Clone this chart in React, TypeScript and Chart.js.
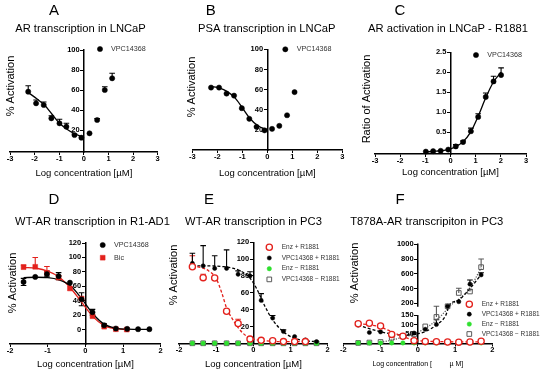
import React, { useEffect, useRef } from 'react';
import { Chart, registerables, LinearScale } from 'chart.js';

Chart.register(...registerables);

const FONT = '"Liberation Sans", Arial, Helvetica, sans-serif';
Chart.defaults.font.family = FONT;
Chart.defaults.color = '#000';

const RED = '#e3211c';
const GREEN = '#2fe02f';
const GRAY = '#5a5a5a';

// ---------------- data ----------------
const X_TICKS_3 = [-3, -2, -1, 0, 1, 2, 3];
const X_TICKS_2 = [-2, -1, 0, 1, 2];
const Y_TICKS_PCT = [20, 40, 60, 80, 100];
const Y_TICKS_RATIO = [0.5, 1.0, 1.5, 2.0, 2.5];
const Y_TICKS_D = [0, 20, 40, 60, 80, 100, 120];
const Y_TICKS_E = [20, 40, 60, 80, 100, 120];
const Y_TICKS_F = [50, 100, 150, 200, 400, 600, 800, 1000];

// A
const A_X = [-2.26, -1.94, -1.63, -1.32, -0.99, -0.71, -0.38, -0.1, 0.23, 0.54, 0.85, 1.15];
const A_Y = [58.3, 46.7, 45, 31.7, 26.7, 23.3, 15, 12.3, 16.7, 30, 60, 71.7];
const A_ERR = [6, 3.3, 3, 2.5, 4, 3.5, 1, 0, 0, 1.5, 3.3, 5];
const A_FIT_X = [-2.26, -1.9, -1.6, -1.3, -1.0, -0.7, -0.4, -0.1, -0.02];
const A_FIT_Y = [57.5, 51, 45, 36, 27, 21, 16.5, 13.5, 12.8];

// B
const B_X = [-2.25, -1.93, -1.63, -1.33, -1.02, -0.72, -0.43, -0.11, 0.19, 0.48, 0.79, 1.09];
const B_Y = [62, 62, 56, 54, 41.5, 31, 23, 19.5, 21, 24, 34.5, 57.5];
const B_FIT_X = [-2.25, -1.9, -1.6, -1.3, -1.0, -0.7, -0.4, -0.1, -0.02];
const B_FIT_Y = [63, 61.5, 58, 52, 42, 31.5, 24.5, 21, 20.7];

// C
const C_X = [-0.98, -0.69, -0.39, -0.09, 0.21, 0.5, 0.81, 1.1, 1.4, 1.71, 2.01];
const C_Y = [0.01, 0.02, 0.03, 0.06, 0.14, 0.25, 0.52, 0.88, 1.38, 1.77, 1.93];
const C_ERR = [0, 0, 0, 0, 0.05, 0.03, 0.08, 0.08, 0.1, 0.13, 0.18];
const C_FIT_X = [-1, -0.6, -0.2, 0.2, 0.5, 0.8, 1.1, 1.4, 1.7, 2.01];
const C_FIT_Y = [0.0, 0.02, 0.05, 0.13, 0.26, 0.5, 0.9, 1.36, 1.75, 2.0];

// D
const D_X = [-1.64, -1.33, -1.02, -0.71, -0.41, -0.1, 0.19, 0.5, 0.81, 1.11, 1.4, 1.7];
const D_VPC = [66, 73, 77, 74, 65, 42, 24, 6, 1.5, 1, 0.5, 0.5];
const D_VPC_ERR = [5, 0, 4, 5, 0, 9, 4, 2, 0, 0, 0, 0];
const D_BIC_X = [-1.64, -1.33, -1.02, -0.71, -0.41, -0.1, 0.19, 0.5, 0.81, 1.1];
const D_BIC = [86.5, 87, 78.5, 72, 57, 43, 18.5, 4, 0.5, 0];
const D_BIC_ERR = [3, 13, 9, 3, 0, 0, 0, 0, 0, 0];
const D_VPC_FIT_X = [-1.64, -1.3, -1.0, -0.7, -0.4, -0.1, 0.2, 0.5, 0.8, 1.1, 1.7];
const D_VPC_FIT_Y = [72, 72.5, 72, 69, 61, 43, 22, 7.5, 2, 0.6, 0.3];
const D_BIC_FIT_X = [-1.64, -1.3, -1.0, -0.7, -0.4, -0.1, 0.2, 0.5, 0.8, 1.1];
const D_BIC_FIT_Y = [86, 85, 81, 73, 58, 38, 18, 5.5, 1.2, 0.2];

// E
const E_X = [-1.64, -1.35, -1.04, -0.72, -0.41, -0.09, 0.21, 0.52, 0.81, 1.11, 1.4, 1.7];
const E_ENZ_X = [-1.64, -1.35, -1.04, -0.72, -0.41, -0.09, 0.21, 0.52, 0.81, 1.11, 1.4];
const E_ENZ = [91, 78, 77.5, 38, 23.5, 5, 3.5, 3, 2, 2, 2];
const E_ENZ_ERR = [13, 4, 0, 0, 5, 0, 0, 0, 0, 0, 0];
const E_VPC = [95, 92, 89, 89, 82, 80, 51, 30, 14, 8, 4, 2];
const E_VPC_ERR = [12, 24, 15, 22, 4, 5, 8, 3, 2, 0, 0, 0];
const E_ENZ_NO = [0, 0, 0, 0, 0, 0, 0, 0, 0, 0, 0, 0];
const E_VPC_NO = [0, 0, 0, 0, 0, 0, 0, 0, 0, 0, 0, 0];
const E_ENZ_FIT_X = [-1.64, -1.4, -1.2, -1.0, -0.85, -0.72, -0.55, -0.4, -0.2, 0, 0.3, 0.8, 1.4];
const E_ENZ_FIT_Y = [91.6, 90, 86, 77, 60, 42, 28, 18, 9, 5, 3, 2, 2];
const E_VPC_FIT_X = [-1.64, -1.2, -0.8, -0.4, -0.1, 0.1, 0.3, 0.5, 0.8, 1.1, 1.4, 1.7];
const E_VPC_FIT_Y = [92, 92, 91, 87, 78, 64, 45, 29, 14, 6, 3, 2];

// F
const F_X = [-1.6, -1.3, -1.0, -0.7, -0.4, -0.1, 0.2, 0.5, 0.8, 1.1, 1.4, 1.7];
const F_ENZ = [104, 107, 92, 48, 38, 15, 11, 9, 8, 7, 8, 12];
const F_ENZ_ERR = [0, 0, 0, 0, 0, 0, 0, 0, 0, 0, 0, 5];
const F_VPC = [97, 58, 61, 44, 40, 55, 75, 100, 160, 222, 460, 585];
const F_VPC_ERR = [18, 0, 0, 0, 0, 0, 0, 25, 0, 0, 55, 30];
const F_ENZ_NO = [3, 3, 3, 3, 3, 3, 3, 3, 3, 3, 3, 3];
const F_VPC_NO = [3, 5, 8, 30, 38, 48, 90, 140, 160, 340, 360, 690];
const F_VPC_NO_ERR = [0, 0, 0, 0, 0, 0, 0, 20, 0, 65, 25, 110];
const F_ENZ_FIT_X = [-1.6, -1.3, -1.0, -0.7, -0.4, -0.1, 0.2, 0.6, 1.0, 1.7];
const F_ENZ_FIT_Y = [104, 99, 86, 62, 36, 18, 12, 10, 9, 9];
const F_VPC_FIT_X = [-1.6, -1.3, -1.0, -0.7, -0.4, -0.1, 0.2, 0.5, 0.75, 0.85, 1.1, 1.4, 1.7];
const F_VPC_FIT_Y = [97, 78, 62, 50, 45, 48, 63, 98, 148, 175, 245, 400, 590];
const F_VPC_NO_FIT_X = [-1.0, -0.7, -0.4, -0.1, 0.2, 0.5, 0.75, 0.9, 1.1, 1.4, 1.7];
const F_VPC_NO_FIT_Y = [6, 18, 33, 50, 80, 122, 152, 180, 255, 410, 680];
const F_SEGMENTS = [
  { min: 0, max: 150, start: 0, end: 0.287 },
  { min: 154, max: 1000, start: 0.371, end: 1 },
];

// ---------------- broken axis scale ----------------
class BrokenLinearScale extends (LinearScale as any) {
  static id = 'brokenLinear';
  static defaults = {};
  segs(): any[] {
    return F_SEGMENTS;
  }
  valueToDecimal(v: number): number {
    const [lo, hi] = this.segs();
    if (v <= lo.max) return lo.start + ((v - lo.min) / (lo.max - lo.min)) * (lo.end - lo.start);
    if (v >= hi.min) return hi.start + ((v - hi.min) / (hi.max - hi.min)) * (hi.end - hi.start);
    return lo.end + ((v - lo.max) / (hi.min - lo.max)) * (hi.start - lo.end);
  }
  getPixelForValue(value: number) {
    if (value === null || value === undefined || isNaN(value)) return NaN;
    return (this as any).getPixelForDecimal(this.valueToDecimal(value));
  }
  getValueForPixel(pixel: number) {
    const d = (this as any).getDecimalForPixel(pixel);
    const [lo, hi] = this.segs();
    if (d <= lo.end) return lo.min + ((d - lo.start) / (lo.end - lo.start)) * (lo.max - lo.min);
    if (d >= hi.start) return hi.min + ((d - hi.start) / (hi.end - hi.start)) * (hi.max - hi.min);
    return lo.max + ((d - lo.end) / (hi.start - lo.end)) * (hi.min - lo.max);
  }
  drawBorder() {
    const self = this as any;
    const ctx = self.ctx;
    const x = self._borderValue;
    const [lo, hi] = this.segs();
    const yLoTop = this.getPixelForValue(lo.max);
    const yHiBot = this.getPixelForValue(hi.min);
    ctx.save();
    ctx.lineWidth = 1.5;
    ctx.strokeStyle = '#000';
    ctx.beginPath();
    ctx.moveTo(x, self.bottom + 0.75);
    ctx.lineTo(x, yLoTop);
    ctx.moveTo(x, yHiBot);
    ctx.lineTo(x, self.top - 0.75);
    ctx.stroke();
    ctx.restore();
  }
}
Chart.register(BrokenLinearScale as any);

// ---------------- helpers ----------------
const pts = (xs: number[], ys: number[]) => xs.map((x, i) => ({ x, y: ys[i] }));

const dotBlack = { pointStyle: 'circle', pointRadius: 2.6, pointBackgroundColor: '#000', pointBorderColor: '#000', pointBorderWidth: 0.5 };
const dotSmallBlack = { pointStyle: 'circle', pointRadius: 2.1, pointBackgroundColor: '#000', pointBorderColor: '#000', pointBorderWidth: 0.5 };
const squareRed = { pointStyle: 'rect', pointRadius: 3.4, pointBackgroundColor: RED, pointBorderColor: RED, pointBorderWidth: 0.5 };
const openRed = { pointStyle: 'circle', pointRadius: 3.1, pointBackgroundColor: '#fff', pointBorderColor: RED, pointBorderWidth: 1.3 };
const dotGreen = { pointStyle: 'circle', pointRadius: 2.2, pointBackgroundColor: GREEN, pointBorderColor: GREEN, pointBorderWidth: 0.5 };
const openGraySq = { pointStyle: 'rect', pointRadius: 3.3, pointBackgroundColor: 'rgba(255,255,255,0)', pointBorderColor: GRAY, pointBorderWidth: 1 };

const scatterDs = (label: string, xs: number[], ys: number[], style: any) => ({
  type: 'scatter', label, data: pts(xs, ys), showLine: false, order: 0, clip: false,
  backgroundColor: style.pointBackgroundColor, borderColor: style.pointBorderColor, ...style,
});
const fitDs = (xs: number[], ys: number[], color: string, dash: number[] = []) => ({
  type: 'line', label: '', data: pts(xs, ys), borderColor: color, backgroundColor: color,
  borderWidth: 1.3, borderDash: dash, pointRadius: 0, pointHoverRadius: 0, fill: false,
  cubicInterpolationMode: 'monotone', order: 1, clip: false,
});

const DASH = [3, 2];
const DOT = [1.2, 1.4];

// ---------------- panels ----------------
const PANELS: any[] = [
  {
    letter: 'A', title: 'AR transcription in LNCaP', yTitle: '% Activation',
    xTitle: 'Log concentration [µM]', xTitleSize: 9.5, xTitlePad: 4.8,
    box: { left: 0, top: 0, w: 185, h: 190 },
    padding: { left: 10, right: 27.3, top: 50, bottom: 11.3 },
    xMin: -3, xMax: 3, xTicks: X_TICKS_3,
    yMin: -2, yMax: 100, yTicks: Y_TICKS_PCT, yFmt: (v: number) => String(v),
    letterPos: [54, 11], titlePos: [80.5, 29], yTitlePos: [11, 86],
    legend: { x: 100, y: 49, dy: 0, textX: 111, size: 7.2, items: [0] },
    datasets: [scatterDs('VPC14368', A_X, A_Y, dotBlack), fitDs(A_FIT_X, A_FIT_Y, '#000')],
    errors: [{ ds: 0, up: A_ERR }],
  },
  {
    letter: 'B', title: 'PSA transcription in LNCaP', yTitle: '% Activation',
    xTitle: 'Log concentration [µM]', xTitleSize: 9.5, xTitlePad: 7.1,
    box: { left: 180, top: 0, w: 185, h: 190 },
    padding: { left: 12.3, right: 22.7, top: 49.3, bottom: 11 },
    xMin: -3, xMax: 3, xTicks: X_TICKS_3,
    yMin: 0, yMax: 100, yTicks: Y_TICKS_PCT, yFmt: (v: number) => String(v),
    letterPos: [30.7, 11], titlePos: [86.7, 29], yTitlePos: [11.7, 87],
    legend: { x: 105.3, y: 49.3, dy: 0, textX: 116.7, size: 7.2, items: [0] },
    datasets: [scatterDs('VPC14368', B_X, B_Y, dotBlack), fitDs(B_FIT_X, B_FIT_Y, '#000')],
    errors: [],
  },
  {
    letter: 'C', title: 'AR activation in LNCaP - R1881', yTitle: 'Ratio of Activation',
    xTitle: 'Log concentration [µM]', xTitleSize: 9.5, xTitlePad: 1.8,
    box: { left: 360, top: 0, w: 190, h: 190 },
    padding: { left: 15, right: 24, top: 52.3, bottom: 12.3 },
    xMin: -3, xMax: 3, xTicks: X_TICKS_3,
    yMin: -0.05, yMax: 2.5, yTicks: Y_TICKS_RATIO, yFmt: (v: number) => v.toFixed(1),
    letterPos: [40, 11], titlePos: [88, 29], yTitlePos: [7, 99],
    legend: { x: 116, y: 55, dy: 0, textX: 127.3, size: 7.2, items: [0] },
    datasets: [scatterDs('VPC14368', C_X, C_Y, dotBlack), fitDs(C_FIT_X, C_FIT_Y, '#000')],
    errors: [{ ds: 0, up: C_ERR }],
  },
  {
    letter: 'D', title: 'WT-AR transcription in R1-AD1', yTitle: '% Activation',
    xTitle: 'Log concentration [µM]', xTitleSize: 9.5, xTitlePad: 3.8,
    box: { left: 0, top: 190, w: 180, h: 190 },
    padding: { left: 10, right: 19.3, top: 53, bottom: 10.3 },
    xMin: -2, xMax: 2, xTicks: X_TICKS_2,
    yMin: -20, yMax: 120, yTicks: Y_TICKS_D, yFmt: (v: number) => String(v),
    letterPos: [54, 10], titlePos: [92.5, 31.7], yTitlePos: [13, 93],
    legend: { x: 102.7, y: 55, dy: 12.7, textX: 114, size: 7.2, items: [0, 1] },
    datasets: [
      scatterDs('VPC14368', D_X, D_VPC, dotBlack),
      scatterDs('Bic', D_BIC_X, D_BIC, squareRed),
      fitDs(D_VPC_FIT_X, D_VPC_FIT_Y, '#000'),
      fitDs(D_BIC_FIT_X, D_BIC_FIT_Y, RED),
    ],
    errors: [{ ds: 0, up: D_VPC_ERR, down: D_VPC_ERR }, { ds: 1, up: D_BIC_ERR }],
  },
  {
    letter: 'E', title: 'WT-AR transcription in PC3', yTitle: '% Activation',
    xTitle: 'Log concentration [µM]', xTitleSize: 9.5, xTitlePad: 4.5,
    box: { left: 165, top: 190, w: 190, h: 190 },
    padding: { left: 14, right: 27.3, top: 52.3, bottom: 10.3 },
    xMin: -2, xMax: 2, xTicks: X_TICKS_2,
    yMin: 0, yMax: 120, yTicks: Y_TICKS_E, yFmt: (v: number) => String(v),
    letterPos: [44, 10], titlePos: [88.5, 32], yTitlePos: [9, 85],
    legend: { x: 104.3, y: 57.3, dy: 10.7, textX: 116.7, size: 6.5, items: [0, 1, 2, 3] },
    datasets: [
      scatterDs('Enz + R1881', E_ENZ_X, E_ENZ, openRed),
      scatterDs('VPC14368 + R1881', E_X, E_VPC, dotSmallBlack),
      scatterDs('Enz − R1881', E_X, E_ENZ_NO, dotGreen),
      scatterDs('VPC14368 − R1881', E_X, E_VPC_NO, openGraySq),
      fitDs(E_ENZ_FIT_X, E_ENZ_FIT_Y, RED, DASH),
      fitDs(E_VPC_FIT_X, E_VPC_FIT_Y, '#000', DASH),
    ],
    errors: [{ ds: 0, up: E_ENZ_ERR }, { ds: 1, up: E_VPC_ERR }],
  },
  {
    letter: 'F', title: 'T878A-AR transcripiton in PC3', yTitle: '% Activation',
    xTitle: 'Log concentration [         µ M]', xTitleSize: 7, xTitlePad: 5.8,
    box: { left: 335, top: 190, w: 215, h: 190 },
    padding: { left: 8.3, right: 57.7, top: 54.3, bottom: 11.8 },
    xMin: -2, xMax: 2, xTicks: X_TICKS_2,
    yType: 'brokenLinear', yMin: 0, yMax: 1000, yTicks: Y_TICKS_F, yFmt: (v: number) => String(v),
    letterPos: [65, 10], titlePos: [91.7, 32], yTitlePos: [20, 83],
    legend: { x: 134.3, y: 114.3, dy: 9.9, textX: 146.7, size: 6.5, items: [0, 1, 2, 3] },
    datasets: [
      scatterDs('Enz + R1881', F_X, F_ENZ, openRed),
      scatterDs('VPC14368 + R1881', F_X, F_VPC, dotSmallBlack),
      scatterDs('Enz − R1881', F_X, F_ENZ_NO, dotGreen),
      scatterDs('VPC14368 − R1881', F_X, F_VPC_NO, openGraySq),
      fitDs(F_ENZ_FIT_X, F_ENZ_FIT_Y, RED, DASH),
      fitDs(F_VPC_FIT_X, F_VPC_FIT_Y, '#000', DASH),
      fitDs(F_VPC_NO_FIT_X, F_VPC_NO_FIT_Y, GRAY, DOT),
    ],
    errors: [{ ds: 0, up: F_ENZ_ERR }, { ds: 1, up: F_VPC_ERR }, { ds: 3, up: F_VPC_NO_ERR }],
  },
];

// ---------------- plugins ----------------
function drawMarker(ctx: CanvasRenderingContext2D, ds: any, x: number, y: number) {
  const r = ds.pointRadius;
  ctx.save();
  ctx.fillStyle = ds.pointBackgroundColor;
  ctx.strokeStyle = ds.pointBorderColor;
  ctx.lineWidth = ds.pointBorderWidth;
  ctx.beginPath();
  if (ds.pointStyle === 'rect') {
    const s = r * Math.SQRT1_2;
    ctx.rect(x - s, y - s, 2 * s, 2 * s);
  } else {
    ctx.arc(x, y, r, 0, Math.PI * 2);
  }
  ctx.fill();
  ctx.stroke();
  ctx.restore();
}

const textPlugin = (p: any) => ({
  id: 'panelText',
  afterDraw(chart: any) {
    const ctx = chart.ctx as CanvasRenderingContext2D;
    ctx.save();
    ctx.fillStyle = '#000';
    ctx.textAlign = 'center';
    ctx.textBaseline = 'middle';
    ctx.font = `15px ${FONT}`;
    ctx.fillText(p.letter, p.letterPos[0], p.letterPos[1]);
    ctx.font = `11.2px ${FONT}`;
    ctx.fillText(p.title, p.titlePos[0], p.titlePos[1]);
    ctx.save();
    ctx.translate(p.yTitlePos[0], p.yTitlePos[1]);
    ctx.rotate(-Math.PI / 2);
    ctx.font = `11px ${FONT}`;
    ctx.fillText(p.yTitle, 0, 0);
    ctx.restore();
    const L = p.legend;
    ctx.textAlign = 'left';
    ctx.font = `${L.size}px ${FONT}`;
    L.items.forEach((idx: number, k: number) => {
      const ds = chart.data.datasets[idx];
      const y = L.y + k * L.dy;
      drawMarker(ctx, ds, L.x, y);
      ctx.fillStyle = '#333';
      ctx.fillText(ds.label, L.textX, y);
    });
    ctx.restore();
  },
});

const errorPlugin = (p: any) => ({
  id: 'errorBars',
  beforeDatasetsDraw(chart: any) {
    const ctx = chart.ctx as CanvasRenderingContext2D;
    const xs = chart.scales.x;
    const ys = chart.scales.y;
    ctx.save();
    ctx.lineWidth = 1.1;
    (p.errors || []).forEach((e: any) => {
      const ds = chart.data.datasets[e.ds];
      ctx.strokeStyle = ds.pointBorderColor;
      ds.data.forEach((pt: any, i: number) => {
        const up = e.up ? e.up[i] || 0 : 0;
        const dn = e.down ? e.down[i] || 0 : 0;
        if (!up && !dn) return;
        const x = xs.getPixelForValue(pt.x);
        const yT = ys.getPixelForValue(pt.y + up);
        const yB = ys.getPixelForValue(pt.y - dn);
        ctx.beginPath();
        ctx.moveTo(x, yT);
        ctx.lineTo(x, yB);
        if (up) { ctx.moveTo(x - 2.8, yT); ctx.lineTo(x + 2.8, yT); }
        if (dn) { ctx.moveTo(x - 2.8, yB); ctx.lineTo(x + 2.8, yB); }
        ctx.stroke();
      });
    });
    ctx.restore();
  },
});

function buildConfig(p: any): any {
  const tickFont = { size: 7.5, weight: 'bold', lineHeight: 1 };
  const grid = { display: true, drawOnChartArea: false, drawTicks: true, tickLength: 3, color: '#000', lineWidth: 1 };
  const border = { display: true, color: '#000', width: 1.5 };
  return {
    type: 'scatter',
    data: { datasets: p.datasets },
    options: {
      responsive: false,
      animation: false,
      events: [],
      layout: { padding: p.padding },
      plugins: { legend: { display: false }, tooltip: { enabled: false }, title: { display: false } },
      scales: {
        x: {
          type: 'linear', position: 'bottom', min: p.xMin, max: p.xMax,
          afterBuildTicks: (s: any) => { s.ticks = p.xTicks.map((v: number) => ({ value: v })); },
          grid, border,
          ticks: { font: tickFont, padding: 0, color: '#000', maxRotation: 0, autoSkip: false, callback: (v: number) => String(v) },
          title: { display: true, text: p.xTitle, color: '#000', font: { size: p.xTitleSize, lineHeight: 1.2 }, padding: { top: p.xTitlePad, bottom: 0 } },
        },
        y: {
          type: p.yType || 'linear', position: { x: 0 }, min: p.yMin, max: p.yMax,
          afterBuildTicks: (s: any) => { s.ticks = p.yTicks.map((v: number) => ({ value: v })); },
          afterFit: (s: any) => { s.width = 0; },
          grid, border,
          ticks: { font: tickFont, padding: 1.5, color: '#000', autoSkip: false, callback: (v: number) => p.yFmt(v) + '  ' },
        },
      },
    },
    plugins: [errorPlugin(p), textPlugin(p)],
  };
}

function Panel({ p }: { p: any }) {
  const ref = useRef<HTMLCanvasElement>(null);
  useEffect(() => {
    const chart = new Chart(ref.current as HTMLCanvasElement, buildConfig(p));
    return () => chart.destroy();
  }, [p]);
  return (
    <canvas
      ref={ref}
      width={p.box.w}
      height={p.box.h}
      style={{ position: 'absolute', left: p.box.left, top: p.box.top, width: p.box.w, height: p.box.h }}
    />
  );
}

export default function App() {
  return (
    <div style={{ position: 'absolute', left: 0, top: 0, width: 550, height: 380, background: '#fff', overflow: 'hidden' }}>
      {PANELS.map((p) => (
        <Panel key={p.letter} p={p} />
      ))}
    </div>
  );
}
